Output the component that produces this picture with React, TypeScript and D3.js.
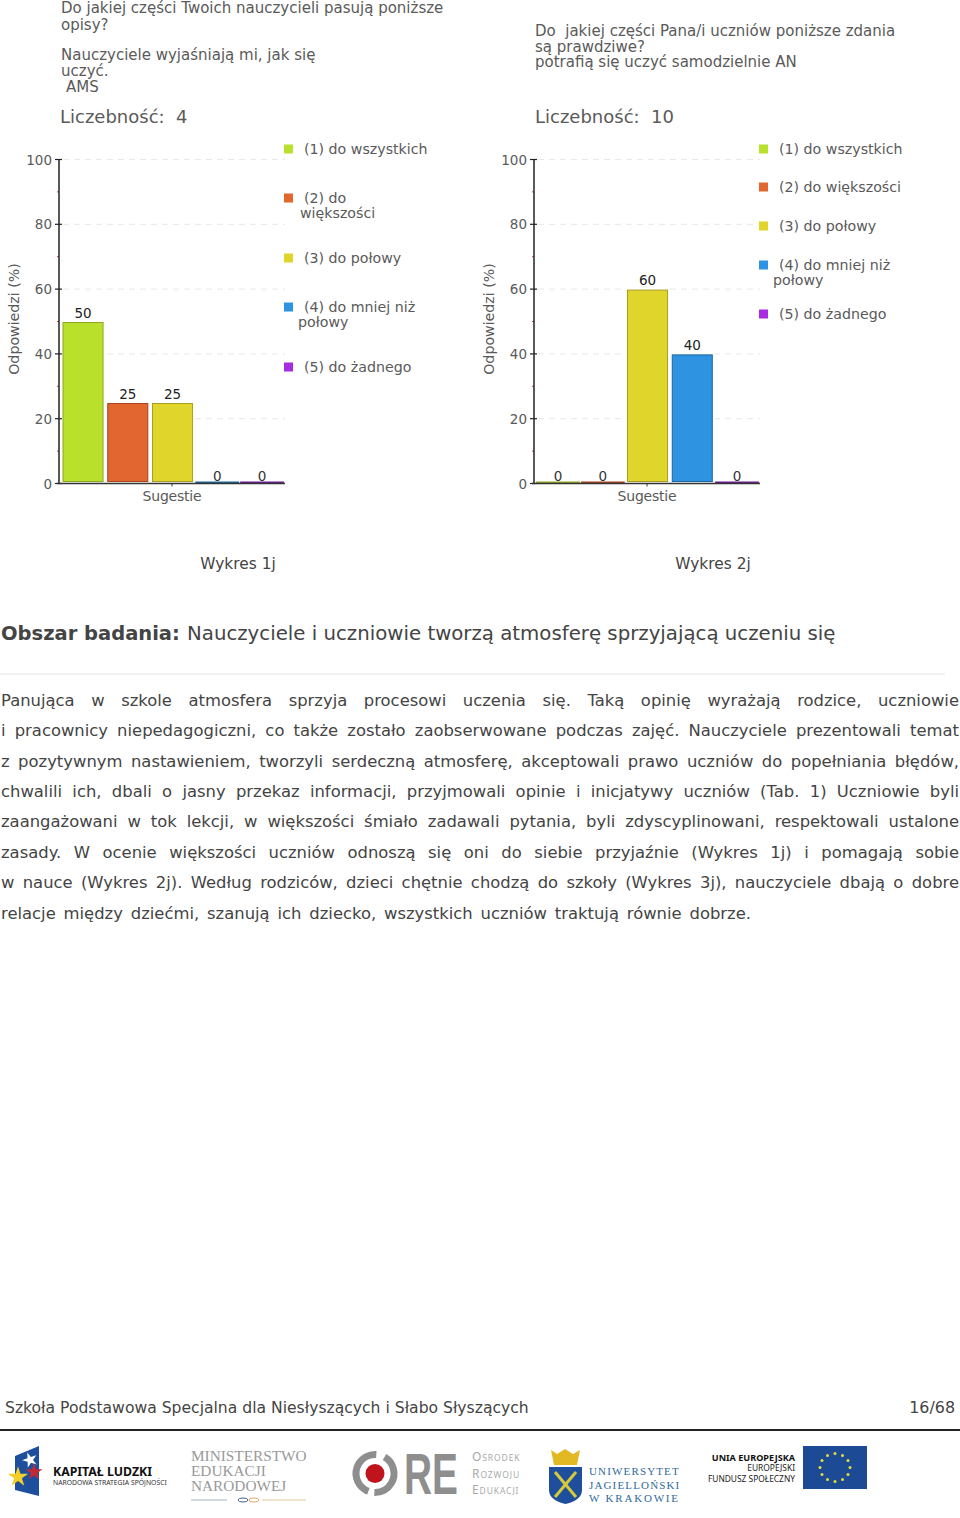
import React from "react";
import * as d3 from "d3";

const categories = ["(1)", "(2)", "(3)", "(4)", "(5)"];
const valuesChart1 = [50, 25, 25, 0, 0];
const valuesChart2 = [0, 0, 60, 40, 0];
const fills = ["#b9e02b", "#e2662f", "#e0d62b", "#2e93e0", "#a72be0"];
const strokes = ["#8fa822", "#a8431d", "#a89f22", "#17689f", "#6d1a96"];
const majorTicks = [0, 20, 40, 60, 80, 100];
const minorTicks = [10, 30, 50, 70, 90];
const legend1: string[][] = [["(1) do wszystkich"], ["(2) do", "większości"], ["(3) do połowy"], ["(4) do mniej niż", "połowy"], ["(5) do żadnego"]];
const legend2: string[][] = [["(1) do wszystkich"], ["(2) do większości"], ["(3) do połowy"], ["(4) do mniej niż", "połowy"], ["(5) do żadnego"]];
const legendY1 = [149, 198, 258, 307, 367];
const legendY2 = [149, 187, 226, 265, 314];
const title1 = [
  { t: "Do jakiej części Twoich nauczycieli pasują poniższe", x: 61, y: 13 },
  { t: "opisy?", x: 61, y: 30 },
  { t: "Nauczyciele wyjaśniają mi, jak się", x: 61, y: 60 },
  { t: "uczyć.", x: 61, y: 76 },
  { t: "AMS", x: 66, y: 92 },
];
const title2 = [
  { t: "Do\u00a0 jakiej części Pana/i uczniów poniższe zdania", x: 535, y: 36 },
  { t: "są prawdziwe?", x: 535, y: 52 },
  { t: "potrafią się uczyć samodzielnie AN", x: 535, y: 67 },
];
const paragraph = [
  "Panująca w szkole atmosfera sprzyja procesowi uczenia się. Taką opinię wyrażają rodzice, uczniowie",
  "i pracownicy niepedagogiczni, co także zostało zaobserwowane podczas zajęć. Nauczyciele prezentowali temat",
  "z pozytywnym nastawieniem, tworzyli serdeczną atmosferę, akceptowali prawo uczniów do popełniania błędów,",
  "chwalili ich, dbali o jasny przekaz informacji, przyjmowali opinie i inicjatywy uczniów (Tab. 1) Uczniowie byli",
  "zaangażowani w tok lekcji, w większości śmiało zadawali pytania, byli zdyscyplinowani, respektowali ustalone",
  "zasady. W ocenie większości uczniów odnoszą się oni do siebie przyjaźnie (Wykres 1j) i pomagają sobie",
  "w nauce (Wykres 2j). Według rodziców, dzieci chętnie chodzą do szkoły (Wykres 3j), nauczyciele dbają o dobre",
  "relacje między dziećmi, szanują ich dziecko, wszystkich uczniów traktują równie dobrze.",
];
const paragraphBaselines = [706, 736, 767, 797, 827, 858, 888, 919];

const FONT = "'DejaVu Sans', Verdana, sans-serif";
const TEXT = "#5a5a5a";
const BODY = "#444";
const BODY_SIZE = 16.4;

function spacing(line: string, target: number) {
  const c = document.createElement("canvas").getContext("2d")!;
  c.font = `${BODY_SIZE}px 'DejaVu Sans'`;
  const n = line.split(" ").length - 1;
  return (target - c.measureText(line).width) / n;
}

function Chart({ dx, values, legend, legendY, caption }: { dx: number; values: number[]; legend: string[][]; legendY: number[]; caption: string }) {
  const left = 59 + dx;
  const right = 285 + dx;
  const y = d3.scaleLinear().domain([0, 100]).range([483.5, 159.5]);
  const x = d3.scaleBand().domain(categories).range([left + 2.66, left + 224.4]).paddingInner(0.105).paddingOuter(0.03);
  const step = x.step();
  return (
    <g fontFamily={FONT}>
      {majorTicks.filter((t) => t > 0).map((t) => (
        <line key={t} x1={left + 4} x2={right} y1={y(t)} y2={y(t)} stroke="#e8e8e8" strokeWidth={1} strokeDasharray="6 5" />
      ))}
      {categories.map((c, i) => {
        const v = values[i];
        const bx = x(c)!;
        const cx = bx + x.bandwidth() / 2;
        if (v === 0) {
          return (
            <g key={c}>
              <line x1={cx - step / 2 + 0.5} x2={cx + step / 2 - 0.5} y1={y(0) - 1} y2={y(0) - 1} stroke={strokes[i]} strokeWidth={2} />
              <text x={cx} y={481} textAnchor="middle" fontSize={13.5} fill="#333">{v}</text>
            </g>
          );
        }
        return (
          <g key={c}>
            <rect x={bx - 2.5} width={x.bandwidth() + 5} y={y(v) - 1.5} height={y(0) - y(v) + 1.5} fill="#fff" />
            <rect x={bx} width={x.bandwidth()} y={y(v) + 1} height={y(0) - y(v) - 3} fill={fills[i]} stroke={strokes[i]} strokeWidth={1} />
            <text x={cx} y={y(v) - 4} textAnchor="middle" fontSize={13.5} fill="#222">{v}</text>
          </g>
        );
      })}
      {minorTicks.map((t) => (
        <line key={t} x1={left - 2} x2={left} y1={y(t)} y2={y(t)} stroke="#c8443c" strokeWidth={1} />
      ))}
      {majorTicks.map((t) => (
        <g key={t}>
          <line x1={left - 4} x2={left + 3} y1={y(t)} y2={y(t)} stroke="#222" strokeWidth={1.2} />
          <text x={left - 7} y={y(t) + 5} textAnchor="end" fontSize={13.5} fill={TEXT}>{t}</text>
        </g>
      ))}
      <line x1={left} x2={left} y1={y(100)} y2={y(0)} stroke="#222" strokeWidth={1.5} />
      <line x1={left - 2} x2={right} y1={y(0)} y2={y(0)} stroke="#333" strokeWidth={1.5} />
      <line x1={172 + dx} x2={172 + dx} y1={y(0)} y2={y(0) + 3} stroke="#333" />
      <text x={172 + dx} y={501} textAnchor="middle" fontSize={14} letterSpacing={-0.2} fill={TEXT}>Sugestie</text>
      <text transform={`translate(${19 + dx},319) rotate(-90)`} textAnchor="middle" fontSize={14.2} fill={TEXT}>Odpowiedzi (%)</text>
      {legend.map((lines, i) => (
        <g key={i}>
          <rect x={284 + dx} y={legendY[i] - 4.5} width={9} height={9} fill={fills[i]} />
          <text x={304 + dx} y={legendY[i] + 5} fontSize={14.2} fill={TEXT}>{lines[0]}</text>
          {lines[1] && (
            <text x={(lines[1] === "większości" ? 300 : 298) + dx} y={legendY[i] + 20} fontSize={14.2} fill={TEXT}>{lines[1]}</text>
          )}
        </g>
      ))}
      <text x={238 + dx} y={568.5} textAnchor="middle" fontSize={15.4} fill={BODY}>{caption}</text>
    </g>
  );
}

function Logos() {
  const eu = d3.range(12).map((i) => (i * Math.PI * 2) / 12);
  const star = d3.symbol().type(d3.symbolStar);
  return (
    <g>
      <polygon points="15,1456 39,1446 39,1496 15,1490" fill="#1d4f9c" />
      <path transform="translate(30,1460) rotate(-20)" d={star.size(70)()!} fill="#fff" />
      <path transform="translate(18,1477)" d={star.size(130)()!} fill="#f4cf2a" />
      <path transform="translate(34,1472)" d={star.size(90)()!} fill="#c22a35" />
      <text x={53} y={1476} fontFamily="'Noto Sans'" fontWeight={700} fontSize={12.3} fill="#111">KAPITAŁ LUDZKI</text>
      <text x={53} y={1485} fontFamily="'Noto Sans'" fontSize={6.8} fill="#333">NARODOWA STRATEGIA SPÓJNOŚCI</text>

      <g fontFamily="'Liberation Serif'" fontSize={15.3} fill="#999">
        <text x={191} y={1461}>MINISTERSTWO</text>
        <text x={191} y={1476}>EDUKACJI</text>
        <text x={191} y={1491}>NARODOWEJ</text>
      </g>
      <line x1={191} x2={227} y1={1500} y2={1500} stroke="#a9b4c4" />
      <ellipse cx={243} cy={1500} rx={5} ry={2} fill="none" stroke="#45617f" />
      <ellipse cx={254} cy={1500} rx={5} ry={2} fill="none" stroke="#e0a868" />
      <line x1={262} x2={306} y1={1500} y2={1500} stroke="#e6c7a0" strokeWidth={1.2} />

      <circle cx={375} cy={1473.5} r={19} fill="none" stroke="#8e8e8e" strokeWidth={7} strokeDasharray="50 6 54 9" transform="rotate(-60 375 1473.5)" />
      <circle cx={375} cy={1473.5} r={9.5} fill="#c0141c" />
      <text transform="translate(404,1494) scale(0.67,1)" fontFamily="'Liberation Sans'" fontWeight={700} fontSize={58} fill="#8e8e8e">RE</text>
      <g fontFamily="'Noto Sans'" fontSize={8.5} fill="#aaa" letterSpacing={0.9}>
        <text x={472} y={1461}><tspan fontSize={12}>O</tspan>ŚRODEK</text>
        <text x={472} y={1478}><tspan fontSize={12}>R</tspan>OZWOJU</text>
        <text x={472} y={1494}><tspan fontSize={12}>E</tspan>DUKACJI</text>
      </g>

      <path d="M549,1467 H582 V1490 Q582,1500 565.5,1504 Q549,1500 549,1490 Z" fill="#1d4f9c" />
      <path d="M551,1450 L557,1454 L565,1449 L573,1454 L580,1450 L577,1465 H554 Z" fill="#e3b923" />
      <line x1={555} x2={576} y1={1472} y2={1497} stroke="#d8c83c" strokeWidth={3} />
      <line x1={576} x2={555} y1={1472} y2={1497} stroke="#d8c83c" strokeWidth={3} />
      <g fontFamily="'Liberation Serif'" fontSize={11} fill="#2f6a9a" letterSpacing={1.15}>
        <text x={589} y={1475} letterSpacing={1.15}>UNIWERSYTET</text>
        <text x={589} y={1489}>JAGIELLOŃSKI</text>
        <text x={589} y={1502} letterSpacing={1.8}>W KRAKOWIE</text>
      </g>

      <g fontFamily="'Noto Sans'" fill="#222" textAnchor="end">
        <text x={795} y={1461} fontSize={9.1} fontWeight={700} fill="#111">UNIA EUROPEJSKA</text>
        <text x={795} y={1471} fontSize={8.4}>EUROPEJSKI</text>
        <text x={795} y={1482} fontSize={8.4}>FUNDUSZ SPOŁECZNY</text>
      </g>
      <rect x={803} y={1446} width={64} height={43} fill="#1c4a94" />
      {eu.map((a, i) => (
        <circle key={i} cx={835 + 15 * Math.sin(a)} cy={1467.5 - 14 * Math.cos(a)} r={1.5} fill="#e6dc3c" />
      ))}
    </g>
  );
}

export default function App() {
  return (
    <svg width={960} height={1518} viewBox="0 0 960 1518" style={{ position: "absolute", left: 0, top: 0, background: "#fff" }}>
      <g fontFamily={FONT} fontSize={15} fill={TEXT}>
        {[...title1, ...title2].map((d) => (
          <text key={d.t} x={d.x} y={d.y}>{d.t}</text>
        ))}
        <text x={60} y={123} fontSize={18}>{"Liczebność:\u00a0 4"}</text>
        <text x={535} y={123} fontSize={18}>{"Liczebność:\u00a0 10"}</text>
      </g>
      <Chart dx={0} values={valuesChart1} legend={legend1} legendY={legendY1} caption="Wykres 1j" />
      <Chart dx={475} values={valuesChart2} legend={legend2} legendY={legendY2} caption="Wykres 2j" />

      <g fontFamily={FONT} fill={BODY}>
        <text x={1} y={640} fontSize={19.5} fontWeight={700}>Obszar badania:</text>
        <text x={187} y={640} fontSize={19.75}>Nauczyciele i uczniowie tworzą atmosferę sprzyjającą uczeniu się</text>
        <line x1={0} x2={945} y1={674} y2={674} stroke="#eee" strokeWidth={1.5} />
        {paragraph.map((l, i) => (
          <text key={i} x={1} y={paragraphBaselines[i]} fontSize={BODY_SIZE} wordSpacing={spacing(l, i < paragraph.length - 1 ? 958 : 750)}>{l}</text>
        ))}
        <text x={5} y={1413} fontSize={15.6}>Szkoła Podstawowa Specjalna dla Niesłyszących i Słabo Słyszących</text>
        <text x={955} y={1413} fontSize={15.9} textAnchor="end">16/68</text>
      </g>
      <line x1={0} x2={960} y1={1430} y2={1430} stroke="#222" strokeWidth={2} />
      <Logos />
    </svg>
  );
}
